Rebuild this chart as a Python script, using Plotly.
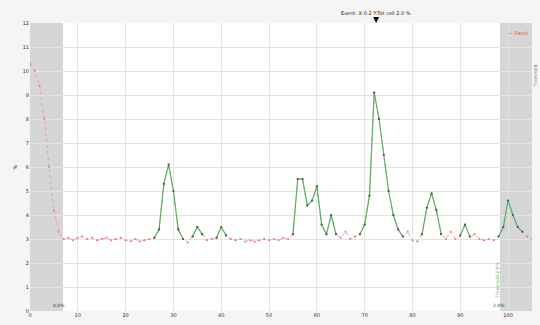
import plotly.graph_objects as go

# Sampled signal (time units, level)
t_vals = [round(i * 0.1, 1) for i in range(106)]
levels = [
    10.3, 10.0, 9.4, 8.0, 6.0, 4.2, 3.3, 3.0, 3.05, 2.95,
    3.05, 3.1, 3.0, 3.05, 2.95, 3.0, 3.05, 2.95, 3.0, 3.05,
    2.95, 2.9, 3.0, 2.9, 2.95, 3.0, 3.05, 3.4, 5.3, 6.1,
    5.0, 3.4, 3.0, 2.85, 3.1, 3.5, 3.2, 2.95, 3.0, 3.05,
    3.5, 3.15, 3.0, 2.95, 3.0, 2.9, 2.95, 2.9, 2.95, 3.0,
    2.95, 3.0, 2.95, 3.05, 3.0, 3.2, 5.5, 5.5, 4.4, 4.6,
    5.2, 3.6, 3.2, 4.0, 3.2, 3.05, 3.3, 3.0, 3.1, 3.2,
    3.6, 4.8, 9.1, 8.0, 6.5, 5.0, 4.0, 3.4, 3.1, 3.3,
    2.95, 2.9, 3.2, 4.3, 4.9, 4.2, 3.2, 3.0, 3.3, 3.0,
    3.15, 3.6, 3.1, 3.2, 3.0, 2.95, 3.0, 2.95, 3.1, 3.5,
    4.6, 4.0, 3.5, 3.3, 3.1, 3.0,
]
threshold = 3.4
settle_end = 7  # samples inside the start-up window are never flagged
x_ticks = list(range(11))
x_tick_text = [str(v * 10) for v in x_ticks]
y_ticks = list(range(13))
y_tick_text = [str(v) for v in y_ticks]
excluded = [(0.0, 0.69), (9.83, 10.5)]

# Above-threshold segments, keeping the neighbouring points so the line joins up
above = []
for i, v in enumerate(levels):
    if i < settle_end:
        above.append(None)
        continue
    lo, hi = max(settle_end, i - 1), min(len(levels), i + 2)
    near = any(levels[j] >= threshold for j in range(lo, hi))
    above.append(v if near else None)

fig = go.Figure()
fig.add_trace(go.Scatter(
    x=t_vals, y=levels, mode="lines+markers",
    line=dict(color="#f39a9a", width=1, dash="dot"),
    marker=dict(color="#ea7a7a", size=2),
    name="Panel", showlegend=False,
))
fig.add_trace(go.Scatter(
    x=t_vals, y=above, mode="lines+markers", connectgaps=False,
    line=dict(color="#5aae66", width=1.2),
    marker=dict(color="#555555", size=2.2),
    showlegend=False,
))

for x0, x1 in excluded:
    fig.add_shape(type="rect", xref="x", yref="paper", x0=x0, x1=x1, y0=0, y1=1,
                  fillcolor="#d6d6d6", line=dict(width=0), layer="below")

fig.add_annotation(x=7.24, y=1.0, xref="x", yref="paper", ax=0, ay=-10,
                   text="Event: X:0.2 Y:Tot cell 2.0 %", showarrow=True,
                   arrowhead=2, arrowsize=0.8, arrowwidth=1.5, arrowcolor="#111111",
                   font=dict(size=5, color="#222222"))
fig.add_annotation(x=10.45, y=11.6, xref="x", yref="y", text="— Panel",
                   showarrow=False, xanchor="right", font=dict(size=5, color="#e05050"))
fig.add_annotation(x=0.6, y=0.05, xref="x", yref="y", text="0.0%",
                   showarrow=False, yanchor="bottom", font=dict(size=4.5, color="#333333"))
fig.add_annotation(x=9.8, y=0.05, xref="x", yref="y", text="2.0%",
                   showarrow=False, yanchor="bottom", font=dict(size=4.5, color="#333333"))
fig.add_annotation(x=9.78, y=1.3, xref="x", yref="y", text="Threshold 2.0%",
                   showarrow=False, textangle=-90, font=dict(size=4.5, color="#5aae66"))
fig.add_annotation(x=1.0, y=0.86, xref="paper", yref="paper", text="Threshold",
                   showarrow=False, textangle=-90, xanchor="center", xshift=4,
                   font=dict(size=4.5, color="#777777"))

fig.update_layout(
    width=540, height=325,
    margin=dict(l=30, r=8, t=23, b=7),
    paper_bgcolor="#f5f5f5", plot_bgcolor="#ffffff",
    font=dict(family="DejaVu Sans", size=5, color="#333333"),
)
fig.update_xaxes(range=[0, 10.5], tickvals=x_ticks, ticktext=x_tick_text,
                 showgrid=True, gridcolor="#e4e4e4", gridwidth=1, zeroline=False,
                 ticks="", tickfont=dict(size=5), showline=False)
fig.update_yaxes(range=[0, 12], tickvals=y_ticks, ticktext=y_tick_text,
                 showgrid=True, gridcolor="#e4e4e4", gridwidth=1, zeroline=False,
                 ticks="", tickfont=dict(size=5), showline=False,
                 title=dict(text="%", font=dict(size=5), standoff=4))

fig.write_html("out.html")
